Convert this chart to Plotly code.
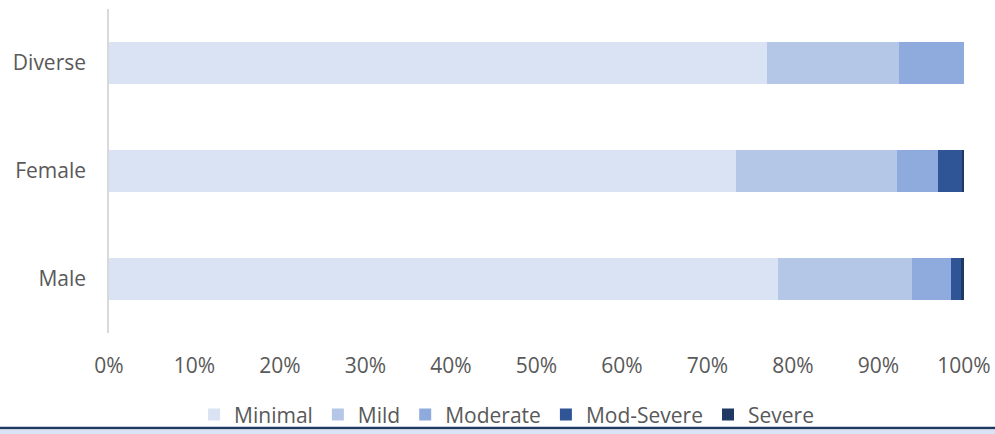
import plotly.graph_objects as go

categories = ["Male", "Female", "Diverse"]
series_names = ["Minimal", "Mild", "Moderate", "Mod-Severe", "Severe"]
minimal = [78.2, 73.3, 76.9]
mild = [15.7, 18.9, 15.5]
moderate = [4.6, 4.7, 7.6]
mod_severe = [1.2, 2.9, 0.0]
severe = [0.3, 0.2, 0.0]
tick_vals = [0, 10, 20, 30, 40, 50, 60, 70, 80, 90, 100]
tick_text = [f"{v}%" for v in tick_vals]

colors = ["#DAE3F3", "#B4C7E7", "#8FAADC", "#2F5597", "#1F3864"]
values = [minimal, mild, moderate, mod_severe, severe]

fig = go.Figure()
for name, vals, col in zip(series_names, values, colors):
    fig.add_trace(go.Bar(
        y=categories, x=vals, name=name, orientation="h",
        marker=dict(color=col, line=dict(width=0)),
        width=0.39,
    ))

font_family = "Open Sans, Noto Sans, sans-serif"
fig.update_layout(
    barmode="stack",
    width=995, height=434,
    margin=dict(l=109, r=31, t=9, b=101, autoexpand=False),
    plot_bgcolor="white", paper_bgcolor="white",
    font=dict(family=font_family, size=21, color="#595959"),
    xaxis=dict(range=[0, 100], tickvals=tick_vals, ticktext=tick_text,
               showgrid=False, zeroline=False, showline=False, automargin=False,
               ticks="", ticklabelstandoff=18, fixedrange=True),
    yaxis=dict(range=[-0.5, 2.5], showgrid=False, zeroline=False, automargin=False,
               showline=True, linecolor="#D9D9D9", linewidth=1.5,
               ticks="", ticklabelstandoff=17, fixedrange=True),
    legend=dict(orientation="h", x=0.465, xanchor="center", y=-0.253, yanchor="middle",
                font=dict(size=21, color="#595959"), traceorder="normal",
                itemwidth=30, bgcolor="rgba(0,0,0,0)"),
    showlegend=True,
    shapes=[
        dict(type="rect", xref="paper", yref="paper", x0=-0.2, x1=1.2,
             y0=-0.299, y1=-0.4, fillcolor="#DAE3F3", line=dict(width=0), layer="below"),
        dict(type="line", xref="paper", yref="paper", x0=-0.2, x1=1.2,
             y0=-0.2935, y1=-0.2935, line=dict(color="#1F3864", width=2.5)),
    ],
)

fig.write_html("out.html", config={"displayModeBar": False},
               post_script="document.body.style.margin='0';document.body.style.overflow='hidden';")
